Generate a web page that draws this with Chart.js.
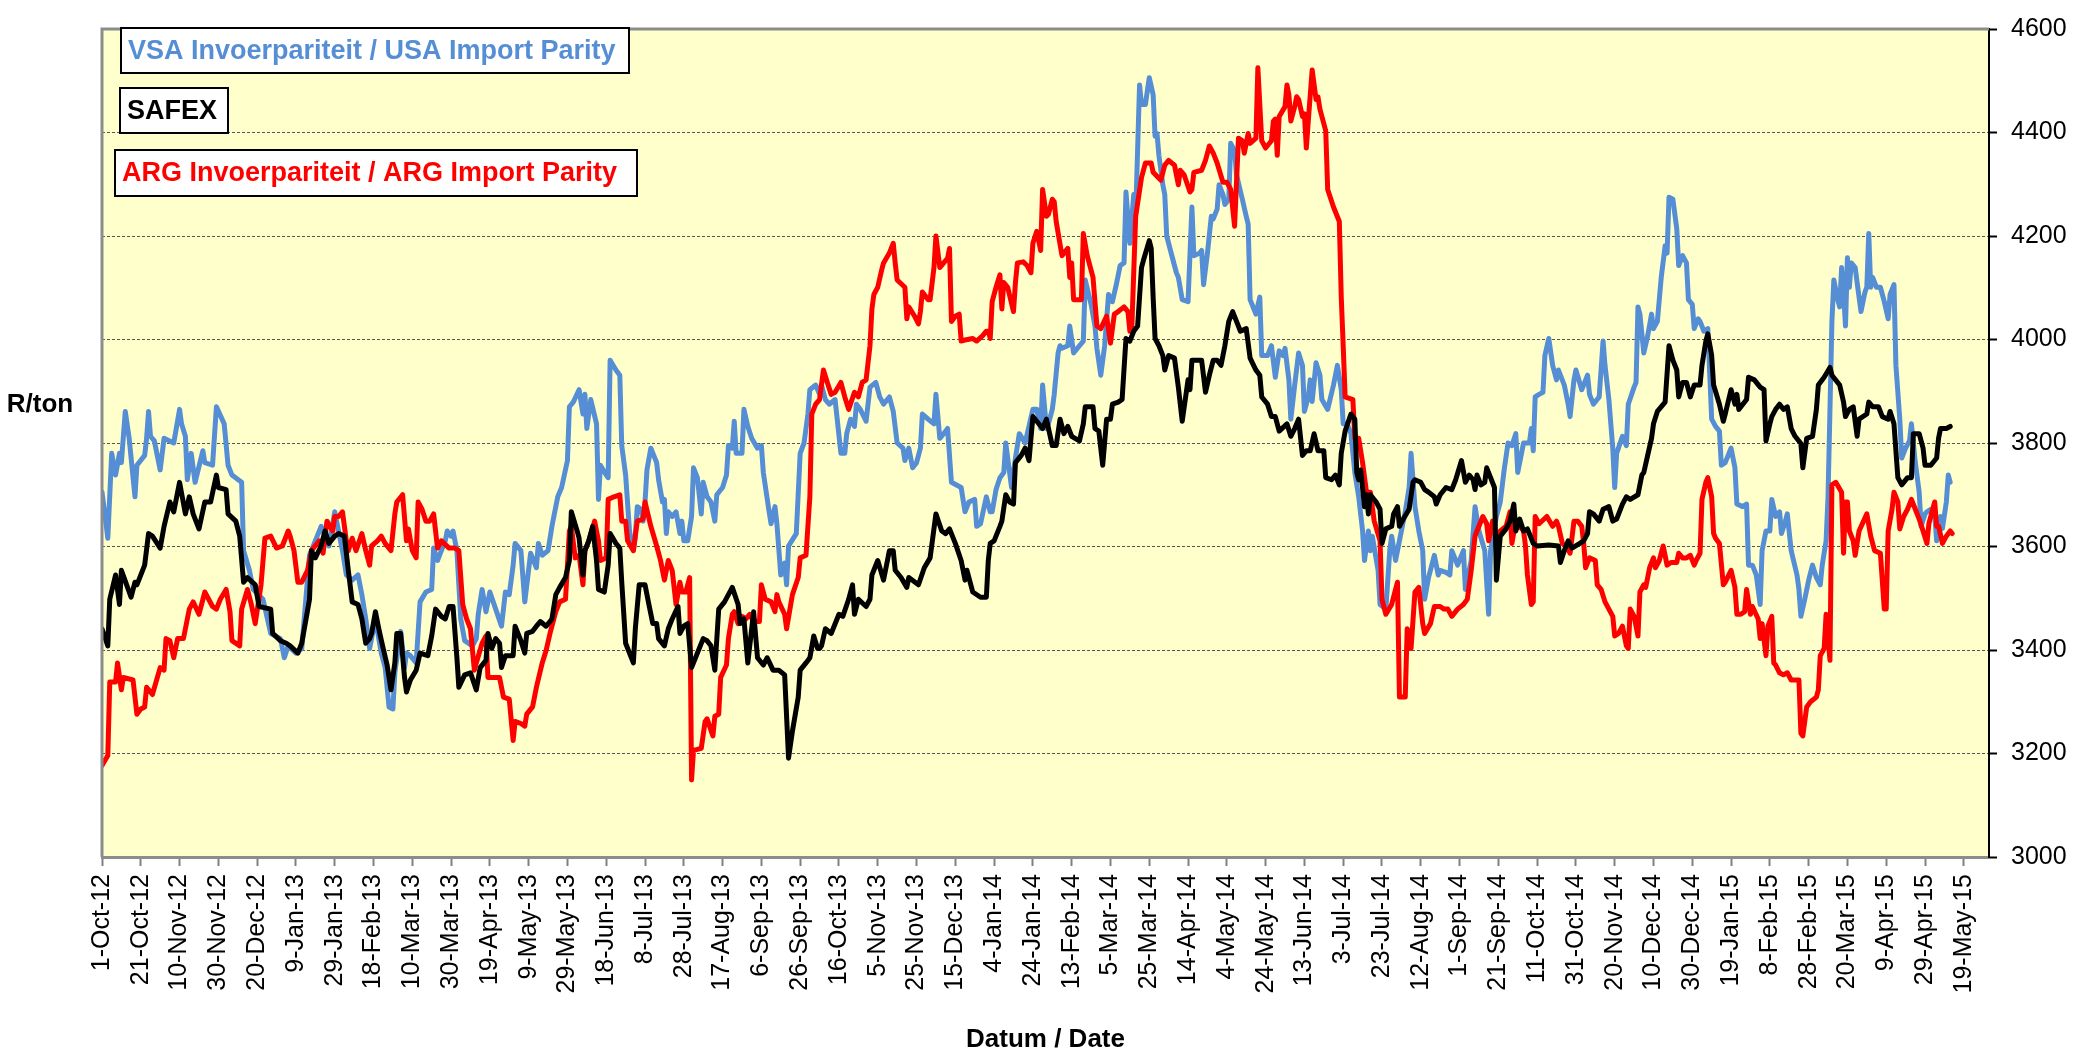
<!DOCTYPE html>
<html>
<head>
<meta charset="utf-8">
<script src="https://cdn.jsdelivr.net/npm/chart.js@4.4.0/dist/chart.umd.min.js"></script>
<style>
  html, body { margin: 0; padding: 0; background: #fff; }
</style>
</head>
<body>
<canvas id="parityChart" width="2073" height="1057"></canvas>
<script>
// x values are days counted from 1-Oct-12
const xTickLabels = ["1-Oct-12","21-Oct-12","10-Nov-12","30-Nov-12","20-Dec-12","9-Jan-13","29-Jan-13","18-Feb-13","10-Mar-13","30-Mar-13","19-Apr-13","9-May-13","29-May-13","18-Jun-13","8-Jul-13","28-Jul-13","17-Aug-13","6-Sep-13","26-Sep-13","16-Oct-13","5-Nov-13","25-Nov-13","15-Dec-13","4-Jan-14","24-Jan-14","13-Feb-14","5-Mar-14","25-Mar-14","14-Apr-14","4-May-14","24-May-14","13-Jun-14","3-Jul-14","23-Jul-14","12-Aug-14","1-Sep-14","21-Sep-14","11-Oct-14","31-Oct-14","20-Nov-14","10-Dec-14","30-Dec-14","19-Jan-15","8-Feb-15","28-Feb-15","20-Mar-15","9-Apr-15","29-Apr-15","19-May-15"];
const tickStepDays = 20;
const yTicks = [3000, 3200, 3400, 3600, 3800, 4000, 4200, 4400, 4600];

const usaDays = [0,3,5,7,9,10,12,14,17,18,22,23,24,25,27,30,32,37,40,41,43,44,46,48,52,53,57,59,63,65,67,72,73,76,78,83,87,92,94,96,100,103,107,110,113,117,120,
124,126,129,132,134,136,138,139,141,144,146,148,150,151,154,156,157,159,162,164,167,170,171,173,175,177,178,180,181,183,185,187,191,193,194,196,198,200,203,206,208,210,212,213,216,218,221,224,225,227,230,232,235,237,240,241,243,
246,248,249,250,252,255,256,257,260,261,262,265,267,268,270,272,274,275,276,278,279,280,281,283,286,287,289,290,291,292,294,296,298,299,300,302,304,305,307,309,310,312,314,316,317,320,322,323,325,326,327,330,331,333,335,338,340,341,344,345,347,348,350,352,353,354,358,360,362,364,365,368,
370,371,373,375,378,381,383,384,386,388,389,391,394,396,399,401,403,406,408,410,413,414,416,418,420,422,423,426,429,430,432,434,436,438,443,445,447,450,451,453,456,458,459,461,463,465,466,469,471,473,476,480,482,484,485,487,488,490,491,493,
494,495,498,499,501,504,506,507,510,512,513,515,517,519,521,523,525,527,528,530,532,533,535,536,538,540,542,543,544,545,547,548,549,552,554,555,557,560,562,563,566,567,568,570,572,573,575,576,578,579,581,582,584,585,588,590,591,592,595,597,598,601,603,605,607,609,610,612,613,615,
617,619,620,622,623,624,626,628,629,632,635,637,639,640,642,644,646,648,650,651,653,654,655,658,659,662,664,665,667,670,672,674,675,677,679,681,682,684,687,689,690,693,695,696,699,702,703,706,708,710,713,715,716,719,721,723,725,727,729,730,733,736,737,738,739,
741,743,744,746,748,750,751,754,756,757,759,760,763,764,766,767,769,772,774,775,777,779,780,781,784,786,787,790,791,792,793,795,797,799,800,802,804,806,807,808,810,812,813,815,817,818,820,821,823,824,826,828,830,832,834,835,837,840,842,843,846,848,849,851,853,855,856,858,860,861,863,
865,866,868,869,871,874,875,876,878,880,882,884,886,887,889,890,892,893,895,896,897,898,899,900,901,902,904,905,907,909,910,911,912,913,915,917,919,921,922,924,925,927,928,930,932,933,935,937,938,940,941,943,945,946,948,949,951,952,953];
const usaValues = [3705,3616,3780,3738,3780,3762,3861,3809,3696,3757,3776,3809,3861,3813,3804,3748,3809,3800,3865,3837,3813,3729,3780,3724,3785,3762,3757,3870,3837,3757,3738,3724,3592,3554,3517,3498,3432,3422,3385,3408,3394,3403,3583,3611,3639,3601,3667,
3592,3545,3535,3545,3507,3460,3403,3422,3460,3394,3366,3290,3286,3356,3436,3366,3394,3389,3375,3493,3512,3517,3597,3573,3592,3611,3630,3620,3630,3592,3460,3418,3408,3422,3469,3517,3474,3512,3479,3446,3512,3507,3564,3606,3592,3493,3587,3559,3606,3583,3592,3639,3696,3714,3766,3870,3879,
3903,3856,3894,3828,3884,3837,3691,3757,3738,3733,3960,3941,3931,3795,3738,3630,3592,3620,3677,3672,3649,3686,3748,3790,3762,3729,3686,3691,3625,3667,3658,3667,3625,3649,3611,3611,3658,3752,3733,3663,3724,3696,3686,3649,3700,3714,3738,3795,3790,3842,3780,3780,3865,3832,3809,3790,3795,3743,3667,3644,3677,3644,3545,3568,3526,3601,3625,3780,3800,3856,3903,3912,
3894,3912,3884,3875,3884,3780,3780,3818,3846,3832,3875,3865,3842,3908,3917,3889,3875,3889,3861,3800,3790,3766,3790,3752,3762,3790,3856,3846,3837,3894,3809,3818,3828,3724,3714,3667,3686,3691,3639,3644,3696,3667,3667,3710,3733,3743,3800,3714,3771,3818,3800,3865,3865,3828,3912,3828,3837,3865,3894,3974,
3988,3983,3988,4026,3974,3988,3997,4115,4068,4026,3983,3931,3988,4087,4073,4106,4143,4148,4285,4186,4280,4242,4492,4454,4454,4506,4473,4393,4398,4355,4299,4280,4200,4157,4129,4120,4077,4073,4256,4162,4167,4172,4106,4167,4238,4233,4252,4299,4280,4261,4271,4379,4365,4318,4271,4238,4223,4077,4049,4082,3969,3969,3988,3927,3978,3969,3983,3922,3846,3912,
3974,3950,3861,3889,3922,3880,3955,3931,3884,3865,3912,3950,3903,3837,3837,3818,3743,3696,3630,3573,3630,3592,3620,3554,3488,3479,3592,3620,3573,3630,3667,3714,3780,3677,3630,3592,3498,3540,3583,3545,3554,3550,3545,3592,3564,3592,3517,3573,3677,3630,3592,3469,3592,3658,3686,3748,3800,3795,3818,3743,3800,3800,3828,3785,3889,
3894,3898,3969,4002,3950,3922,3941,3912,3875,3851,3922,3941,3903,3912,3931,3894,3875,3889,3997,3950,3884,3790,3714,3780,3813,3795,3875,3908,3917,4063,4049,3974,4007,4049,4021,4035,4120,4181,4167,4275,4271,4214,4143,4162,4148,4077,4068,4021,4040,4035,4016,4021,3846,3832,3823,3757,3762,3790,3752,3682,3677,3682,3564,3564,3545,3488,3592,3630,3630,3691,3658,
3667,3625,3649,3663,3592,3545,3517,3465,3498,3535,3564,3540,3526,3564,3611,3696,4035,4115,4077,4063,4139,4091,4026,4158,4101,4148,4139,4110,4054,4091,4101,4205,4101,4120,4101,4101,4073,4040,4087,4106,3950,3846,3771,3790,3804,3837,3762,3705,3639,3663,3667,3672,3663,3611,3658,3635,3686,3738,3724];

const safexDays = [0,3,4,7,9,10,15,17,18,22,24,26,30,32,35,37,40,43,45,47,50,53,56,59,60,64,65,69,71,73,75,79,81,87,88,92,95,97,101,103,107,108,110,113,115,117,120,
122,125,127,129,132,134,136,138,139,141,143,145,147,149,151,152,154,156,157,159,162,164,168,170,172,175,177,179,181,183,184,187,190,193,195,198,199,201,203,205,206,208,212,213,216,218,219,222,224,226,229,232,234,236,239,241,242,245,
246,248,249,251,253,255,256,259,261,262,265,267,268,270,274,275,277,280,282,284,286,287,290,292,294,297,298,300,302,304,307,310,312,314,316,318,321,323,325,328,329,331,333,335,336,338,341,343,346,349,352,354,356,359,360,363,365,367,369,
370,371,373,376,380,382,385,387,388,390,394,396,397,400,403,406,408,409,412,415,416,421,424,427,430,433,435,437,440,443,445,446,449,453,456,457,458,460,463,464,466,468,470,471,474,476,478,480,482,485,487,490,492,
494,496,498,500,504,506,507,511,512,514,516,518,520,521,524,526,528,530,532,534,536,537,540,541,542,543,545,547,548,550,553,555,557,560,561,562,567,569,571,573,575,577,579,581,583,585,587,590,592,595,597,598,601,603,605,607,611,613,615,
617,619,621,623,625,627,630,631,634,636,638,639,641,644,646,647,648,649,651,652,653,654,657,659,660,662,665,666,668,669,671,674,676,677,680,682,684,687,688,690,693,696,698,701,703,705,707,708,709,711,713,714,716,718,719,721,724,726,728,729,731,733,735,738,740,
746,751,752,754,756,758,762,764,766,767,769,772,774,777,779,781,784,786,788,792,794,795,797,799,800,802,806,808,810,812,813,815,817,819,821,824,825,827,828,830,831,834,836,837,840,842,843,844,848,849,852,855,857,858,860,861,863,
865,867,869,871,873,876,877,879,882,884,885,888,891,892,896,898,899,901,903,905,906,910,911,913,916,918,921,922,924,926,928,931,933,934,937,939,940,943,946,947,948,951,953];
const safexValues = [3441,3408,3498,3545,3488,3554,3502,3531,3526,3564,3625,3620,3597,3639,3686,3667,3724,3663,3696,3663,3634,3686,3686,3738,3714,3710,3663,3649,3620,3531,3540,3526,3484,3479,3432,3418,3413,3408,3394,3413,3498,3592,3578,3601,3630,3606,3620,
3625,3620,3554,3493,3488,3460,3413,3422,3432,3474,3436,3403,3371,3323,3375,3432,3432,3347,3319,3342,3361,3394,3389,3427,3479,3465,3460,3484,3484,3385,3328,3352,3356,3323,3366,3380,3432,3403,3422,3413,3366,3389,3389,3446,3418,3394,3432,3436,3446,3455,3446,3460,3507,3521,3540,3573,3667,3630,
3616,3545,3592,3611,3639,3573,3517,3512,3564,3625,3606,3597,3531,3413,3375,3441,3526,3526,3488,3451,3451,3422,3408,3441,3460,3484,3432,3446,3451,3366,3394,3422,3418,3408,3361,3479,3493,3507,3521,3488,3451,3460,3375,3441,3474,3385,3371,3385,3361,3361,3352,3191,3243,3309,3361,3375,3385,3427,3403,
3403,3408,3441,3432,3469,3465,3498,3526,3469,3498,3484,3498,3545,3573,3535,3592,3592,3554,3540,3521,3540,3526,3559,3578,3663,3630,3625,3634,3606,3573,3535,3554,3512,3502,3502,3573,3606,3611,3639,3649,3700,3686,3682,3762,3776,3790,3766,3851,3842,3828,3846,3795,3795,
3846,3818,3832,3813,3804,3837,3870,3870,3828,3823,3757,3846,3846,3875,3879,3884,4002,3997,4016,4026,4139,4153,4191,4176,4082,4002,3988,3969,3941,3969,3964,3908,3842,3922,3903,3960,3960,3898,3931,3960,3960,3950,3988,4035,4054,4035,4016,4021,3964,3941,3931,3889,3875,3851,3851,3823,3837,3813,3828,
3846,3776,3785,3785,3818,3785,3785,3733,3729,3738,3719,3780,3823,3856,3846,3743,3729,3748,3677,3700,3663,3700,3686,3672,3606,3634,3639,3663,3677,3639,3653,3672,3724,3729,3724,3710,3705,3696,3682,3700,3714,3710,3729,3766,3724,3738,3729,3710,3738,3719,3724,3752,3733,3714,3535,3620,3634,3649,3682,3630,3653,3630,3634,3606,3601,
3603,3601,3569,3592,3611,3597,3606,3611,3625,3667,3663,3649,3672,3677,3649,3653,3682,3696,3691,3700,3738,3743,3776,3809,3837,3861,3879,3988,3960,3941,3889,3917,3917,3889,3912,3912,3950,3997,4011,3969,3912,3875,3842,3856,3903,3875,3894,3865,3884,3927,3922,3908,3903,3804,3837,3851,3865,
3875,3865,3870,3828,3813,3799,3752,3809,3813,3865,3912,3927,3946,3931,3912,3879,3851,3865,3870,3813,3846,3856,3879,3870,3870,3851,3846,3861,3837,3733,3719,3733,3733,3818,3818,3790,3757,3757,3771,3809,3828,3828,3832];

const argDays = [0,3,4,7,8,10,11,16,18,20,22,23,26,30,32,33,35,37,39,42,45,47,50,53,57,59,61,64,66,67,71,72,75,77,79,82,84,87,90,93,96,97,99,101,103,106,108,112,114,116,119,120,
122,124,126,127,129,131,134,136,138,139,142,144,146,149,151,152,155,157,158,160,162,163,165,167,169,171,173,175,179,182,184,186,188,190,192,193,196,198,199,201,205,207,210,212,213,216,218,219,222,224,227,229,231,234,236,239,241,242,244,
246,248,249,251,254,256,257,260,261,264,267,268,270,271,274,276,279,280,283,286,288,290,292,294,296,298,299,301,303,304,305,309,311,312,315,316,318,319,322,323,325,326,328,330,332,334,336,339,340,342,345,347,348,349,352,353,356,359,360,363,365,366,368,
370,372,374,376,378,381,383,385,388,390,392,394,396,397,398,400,402,403,406,408,409,410,414,415,416,419,421,422,423,426,427,429,430,432,434,436,437,438,440,442,443,445,449,451,454,456,457,458,459,461,463,464,465,467,470,471,472,475,477,479,480,482,484,485,487,488,490,491,492,
495,498,499,500,501,505,506,508,511,512,513,515,518,520,522,524,527,529,530,531,533,536,538,541,542,546,548,550,553,555,556,558,561,562,563,567,569,571,573,575,578,580,582,584,586,588,589,591,592,595,596,598,600,603,604,605,606,607,610,611,612,613,615,616,
617,619,620,621,622,624,626,627,628,630,631,632,635,638,639,640,641,645,646,648,650,652,654,656,659,660,662,665,667,668,669,672,673,674,675,677,679,681,682,685,687,690,692,694,696,699,702,704,706,708,709,712,714,715,717,719,721,724,726,727,729,731,733,734,735,737,738,739,
741,745,748,750,751,753,755,757,759,761,763,764,765,767,770,771,773,775,777,779,780,782,784,786,787,788,790,792,793,795,796,798,800,801,803,805,807,809,812,813,815,817,819,821,822,824,825,827,828,830,831,832,834,836,837,840,842,843,845,847,848,850,851,854,855,856,858,859,861,862,863,
865,867,869,871,875,876,877,879,881,884,885,886,888,889,890,891,892,894,897,898,899,900,901,903,904,906,910,912,914,917,919,920,921,923,924,926,927,929,931,933,935,937,939,941,942,945,946,947,949,951,953,954];
const argValues = [3177,3196,3338,3338,3375,3323,3347,3342,3276,3286,3290,3328,3314,3366,3361,3422,3418,3385,3422,3422,3479,3493,3469,3512,3484,3479,3498,3517,3474,3418,3408,3479,3517,3488,3451,3526,3616,3620,3597,3601,3630,3620,3592,3531,3531,3554,3592,3611,3587,3649,3630,3658,
3658,3667,3611,3592,3616,3592,3625,3592,3564,3601,3611,3620,3606,3592,3663,3686,3700,3611,3634,3592,3578,3686,3672,3649,3649,3663,3597,3611,3597,3597,3592,3488,3460,3441,3361,3375,3413,3427,3347,3347,3347,3309,3305,3225,3262,3258,3253,3276,3290,3328,3375,3399,3432,3474,3493,3498,3630,3639,3578,
3583,3526,3592,3611,3649,3611,3573,3578,3691,3696,3700,3649,3649,3611,3592,3649,3653,3686,3639,3601,3573,3535,3573,3554,3488,3531,3512,3512,3540,3149,3206,3210,3262,3267,3234,3272,3276,3347,3371,3422,3469,3474,3451,3465,3460,3469,3455,3455,3526,3498,3493,3474,3507,3493,3469,3441,3507,3540,3578,3583,3696,3856,3875,
3884,3941,3917,3894,3898,3917,3889,3865,3898,3889,3917,3922,3988,4059,4087,4101,4134,4148,4167,4186,4148,4115,4101,4040,4063,4045,4030,4054,4092,4077,4077,4139,4200,4139,4148,4157,4176,4035,4045,4049,3997,3999,4002,3997,4007,4016,4016,4002,4073,4101,4125,4059,4110,4101,4054,4110,4148,4150,4143,4129,4186,4209,4172,4290,4238,4242,4271,4266,4228,
4162,4176,4120,4148,4077,4077,4205,4162,4120,4073,4026,4021,4045,3993,4049,4054,4063,4054,4016,4021,4238,4313,4341,4341,4323,4308,4337,4346,4337,4299,4327,4318,4285,4290,4323,4327,4346,4374,4360,4341,4304,4304,4290,4219,4389,4384,4360,4398,4379,4389,4525,4384,4370,4384,4422,4426,4356,4431,4450,4492,4473,4422,4450,4469,
4464,4431,4436,4370,4422,4521,4464,4469,4445,4417,4403,4290,4256,4228,4082,3988,3889,3884,3809,3809,3762,3705,3705,3649,3611,3498,3469,3488,3517,3531,3309,3309,3441,3432,3403,3512,3521,3451,3432,3451,3484,3484,3479,3479,3465,3479,3488,3498,3554,3620,3630,3658,3644,3611,3649,3611,3630,3639,3667,3606,3649,3639,3630,3601,3545,3488,3493,3658,
3644,3658,3639,3649,3639,3606,3601,3587,3649,3649,3639,3606,3559,3578,3573,3526,3517,3493,3479,3465,3427,3432,3446,3408,3403,3479,3465,3427,3512,3526,3521,3559,3578,3559,3573,3601,3564,3569,3569,3587,3578,3578,3583,3564,3573,3587,3691,3724,3733,3696,3625,3616,3606,3526,3531,3554,3521,3469,3469,3474,3517,3469,3484,3460,3422,3451,3389,3446,3465,3375,3371,
3356,3352,3356,3342,3342,3239,3234,3290,3300,3309,3323,3389,3403,3469,3422,3380,3719,3724,3705,3587,3686,3686,3630,3611,3583,3630,3663,3620,3592,3587,3479,3479,3630,3672,3705,3686,3634,3658,3672,3691,3672,3653,3630,3606,3644,3686,3639,3639,3606,3620,3630,3625];

const pairs = (days, vals) => days.map((d, i) => ({ x: d, y: vals[i] }));

const FONT = "Arial, 'Liberation Sans', sans-serif";
const USA_BLUE = "#558ED5";
const ARG_RED = "#FF0000";

// text boxes standing in for the legend
const labelBoxes = [
  { text: "VSA Invoerpariteit / USA Import Parity", color: USA_BLUE, x: 121, y: 28, w: 508, h: 45 },
  { text: "SAFEX", color: "#000000", x: 120, y: 88, w: 108, h: 45 },
  { text: "ARG Invoerpariteit / ARG Import Parity", color: ARG_RED, x: 115, y: 150, w: 522, h: 46 }
];

const chartFrame = {
  id: "chartFrame",
  beforeDraw(chart) {
    const { ctx, chartArea: a } = chart;
    ctx.save();
    ctx.fillStyle = "#FFFFCC";
    ctx.fillRect(a.left, a.top, a.right - a.left, a.bottom - a.top);
    ctx.restore();
  },
  afterDraw(chart) {
    const { ctx, chartArea: a } = chart;
    ctx.save();
    ctx.strokeStyle = "#8c8c8c";
    ctx.lineWidth = 3;
    ctx.beginPath();
    ctx.moveTo(a.left, a.bottom);
    ctx.lineTo(a.left, a.top);
    ctx.lineTo(a.right, a.top);
    ctx.stroke();

    ctx.font = `bold 27px ${FONT}`;
    ctx.textBaseline = "middle";
    ctx.textAlign = "left";
    labelBoxes.forEach(b => {
      ctx.fillStyle = "#fff";
      ctx.fillRect(b.x, b.y, b.w, b.h);
      ctx.strokeStyle = "#000";
      ctx.lineWidth = 2;
      ctx.strokeRect(b.x, b.y, b.w, b.h);
      ctx.fillStyle = b.color;
      ctx.fillText(b.text, b.x + 7, b.y + b.h / 2 + 1);
    });

    ctx.font = `bold 26px ${FONT}`;
    ctx.fillStyle = "#000";
    ctx.textAlign = "center";
    ctx.fillText("R/ton", 40, 405);
    ctx.fillText("Datum / Date", (a.left + a.right) / 2, 1040);
    ctx.restore();
  }
};

const lineStyle = { borderWidth: 5, pointRadius: 0, tension: 0, fill: false, borderJoinStyle: "round", borderCapStyle: "round" };

new Chart(document.getElementById("parityChart"), {
  type: "line",
  data: {
    datasets: [
      { label: "SAFEX", data: pairs(safexDays, safexValues), borderColor: "#000000", order: 1, ...lineStyle },
      { label: "ARG Invoerpariteit / ARG Import Parity", data: pairs(argDays, argValues), borderColor: ARG_RED, order: 2, ...lineStyle },
      { label: "VSA Invoerpariteit / USA Import Parity", data: pairs(usaDays, usaValues), borderColor: USA_BLUE, order: 3, ...lineStyle }
    ]
  },
  options: {
    responsive: false,
    animation: false,
    devicePixelRatio: 1,
    layout: { padding: { left: 102, top: 15, right: 0, bottom: 0 } },
    plugins: { legend: { display: false }, tooltip: { enabled: false } },
    scales: {
      x: {
        type: "linear",
        min: 0,
        max: 973,
        afterBuildTicks: s => { s.ticks = xTickLabels.map((_, i) => ({ value: i * tickStepDays })); },
        afterFit: s => { s.height = 200; },
        ticks: {
          autoSkip: false, minRotation: 90, maxRotation: 90, padding: 8, color: "#000",
          font: { family: FONT, size: 25 },
          callback: v => xTickLabels[Math.round(v / tickStepDays)]
        },
        grid: { drawOnChartArea: false, drawTicks: true, tickLength: 9, tickColor: "#808080", tickWidth: 2 },
        border: { color: "#8c8c8c", width: 3 }
      },
      y: {
        position: "right",
        min: 3000,
        max: 4600,
        afterBuildTicks: s => { s.ticks = yTicks.map(v => ({ value: v })); },
        afterFit: s => { s.width = 84; },
        ticks: { color: "#000", padding: 14, font: { family: FONT, size: 25 }, callback: v => String(v) },
        grid: { color: "#555", lineWidth: 1, tickLength: 8, tickColor: "#000", tickWidth: 2, tickBorderDash: [] },
        border: { color: "#000", width: 2, dash: [3, 2] }
      }
    }
  },
  plugins: [chartFrame]
});
</script>
</body>
</html>
